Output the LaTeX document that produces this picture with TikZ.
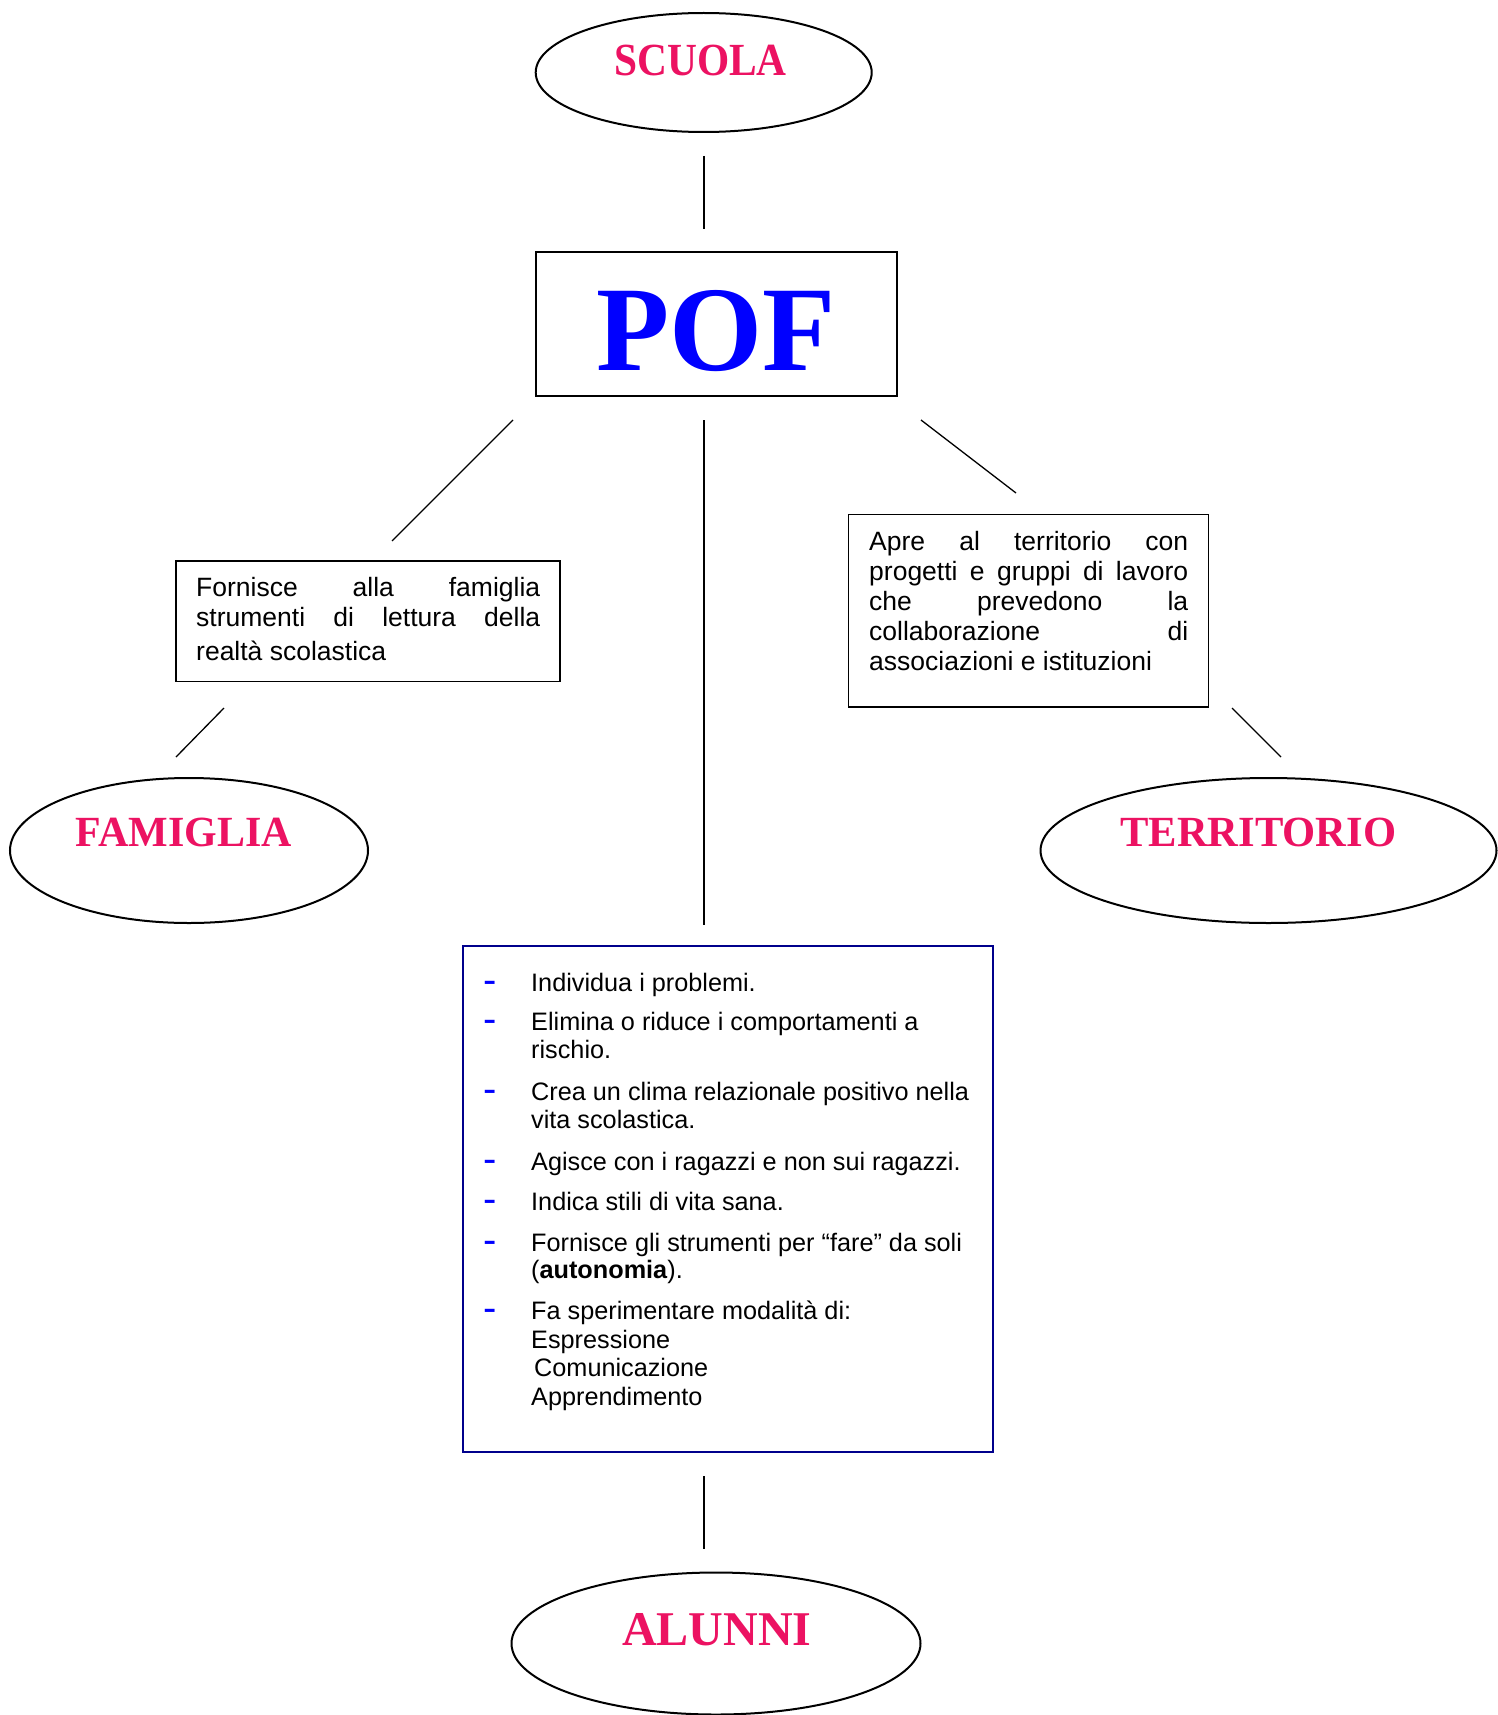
\documentclass[tikz,border=0pt]{standalone}
\usepackage{fontspec}
\usepackage{graphicx}
\setmainfont{Liberation Sans}
\newfontfamily\titlefont{Liberation Serif}
\usetikzlibrary{shapes.geometric}
\definecolor{pinkred}{RGB}{236,18,98}
\definecolor{navyb}{RGB}{0,0,140}
\definecolor{pofblue}{RGB}{0,0,255}
\tikzset{
  ell/.style={ellipse, draw=black, line width=2pt, inner sep=0pt},
  box/.style={rectangle, draw=black, line width=1.6pt, inner sep=0pt},
  link/.style={draw=black, line width=1.3pt},
  ttl/.style={inner sep=0pt, anchor=base, text=pinkred, font=\titlefont\bfseries},
  txt/.style={inner sep=0pt, anchor=base west, font=\fontsize{26.5}{30}\selectfont},
  itm/.style={inner sep=0pt, anchor=base west, font=\fontsize{25.25}{30}\selectfont},
  dsh/.style={inner sep=0pt, anchor=base west, text=pofblue, font=\fontsize{40}{44}\selectfont}
}
\begin{document}
\begin{tikzpicture}[x=1pt,y=-1pt]
\useasboundingbox (0,0) rectangle (1497,1715);
\fill[white] (0,0) rectangle (1497,1715);

% ellipses
\node[ell, minimum width=336pt, minimum height=119pt] (scuola) at (703.7,72.5) {};
\node[ell, minimum width=358pt, minimum height=145pt] (famiglia) at (189,850.5) {};
\node[ell, minimum width=456pt, minimum height=145pt] (territorio) at (1268.5,850.5) {};
\node[ell, minimum width=409pt, minimum height=142pt] (alunni) at (716,1643.5) {};

% titles
\node[ttl] (tscuola) at (700.5,75.7) {\fontsize{46}{50}\selectfont\scalebox{0.90}[1]{SCUOLA}};
\node[ttl] (tfamiglia) at (183.9,846.7) {\fontsize{43}{50}\selectfont\scalebox{0.975}[1]{FAMIGLIA}};
\node[ttl] (tterritorio) at (1258.4,846.7) {\fontsize{43}{50}\selectfont\scalebox{0.99}[1]{TERRITORIO}};
\node[ttl] (talunni) at (717,1645) {\fontsize{48.5}{55}\selectfont\scalebox{0.99}[1]{ALUNNI}};

% POF box
\node[box, line width=2pt, minimum width=360.7pt, minimum height=143.7pt] (pof) at (716.3,324.2) {};
\node[inner sep=0pt, anchor=base, text=pofblue, font=\titlefont\bfseries] (tpof) at (715.8,370) {\fontsize{121}{130}\selectfont\scalebox{0.99}[1]{POF}};

% side boxes
\node[box, minimum width=384pt, minimum height=120.7pt] (fornisce) at (368,621.3) {};
\node[txt] (f1) at (196,596.7) {\hbox to 344pt{Fornisce\hfill alla\hfill famiglia}};
\node[txt] (f2) at (196,626.7) {\hbox to 344pt{strumenti\hfill di\hfill lettura\hfill della}};
\node[txt] (f3) at (196,660.7) {realtà scolastica};

\node[box, minimum width=360pt, minimum height=192.4pt] (apre) at (1028.3,610.5) {};
\node[txt] (a1) at (869,550.7) {\hbox to 319pt{Apre\hfill al\hfill territorio\hfill con}};
\node[txt] (a2) at (869,580.3) {\hbox to 319pt{progetti\hfill e\hfill gruppi\hfill di\hfill lavoro}};
\node[txt] (a3) at (869,610.5) {\hbox to 319pt{che\hfill prevedono\hfill la}};
\node[txt] (a4) at (869,640.7) {\hbox to 319pt{collaborazione\hfill di}};
\node[txt] (a5) at (869,670.8) {associazioni e istituzioni};

% central box
\node[box, draw=navyb, minimum width=530pt, minimum height=506pt] (lista) at (728,1199) {};
\node[dsh] (d1) at (483.2,993.9) {-};
\node[dsh] (d2) at (483.2,1032.9) {-};
\node[dsh] (d3) at (483.2,1102.9) {-};
\node[dsh] (d4) at (483.2,1172.2) {-};
\node[dsh] (d5) at (483.2,1212.2) {-};
\node[dsh] (d6) at (483.2,1253.2) {-};
\node[dsh] (d7) at (483.2,1321.5) {-};
\node[itm] (i1) at (531,991.7) {Individua i problemi.};
\node[itm] (i2) at (531,1030.7) {Elimina o riduce i comportamenti a};
\node[itm] (i2b) at (531,1058.3) {rischio.};
\node[itm] (i3) at (531,1100.7) {Crea un clima relazionale positivo nella};
\node[itm] (i3b) at (531,1128.3) {vita scolastica.};
\node[itm] (i4) at (531,1170) {Agisce con i ragazzi e non sui ragazzi.};
\node[itm] (i5) at (531,1210) {Indica stili di vita sana.};
\node[itm] (i6) at (531,1251) {Fornisce gli strumenti per “fare” da soli};
\node[itm] (i6b) at (531,1278.3) {(\textbf{autonomia}).};
\node[itm] (i7) at (531,1319.3) {Fa sperimentare modalità di:};
\node[itm] (i7b) at (531,1348.3) {Espressione};
\node[itm] (i7c) at (534,1376.7) {Comunicazione};
\node[itm] (i7d) at (531,1405) {Apprendimento};

% connector end points
\coordinate (c1a) at (704,156);   \coordinate (c1b) at (704,229);
\coordinate (c2a) at (704,420);   \coordinate (c2b) at (704,925);
\coordinate (c3a) at (513,420);   \coordinate (c3b) at (392,541);
\coordinate (c4a) at (921,420);   \coordinate (c4b) at (1016,493);
\coordinate (c5a) at (224,708);   \coordinate (c5b) at (176,757);
\coordinate (c6a) at (1232,708);  \coordinate (c6b) at (1281,757);
\coordinate (c7a) at (704,1476);  \coordinate (c7b) at (704,1549);

\draw[link] (c1a) -- (c1b);
\draw[link] (c2a) -- (c2b);
\draw[link] (c3a) -- (c3b);
\draw[link] (c4a) -- (c4b);
\draw[link] (c5a) -- (c5b);
\draw[link] (c6a) -- (c6b);
\draw[link] (c7a) -- (c7b);
\end{tikzpicture}
\end{document}
